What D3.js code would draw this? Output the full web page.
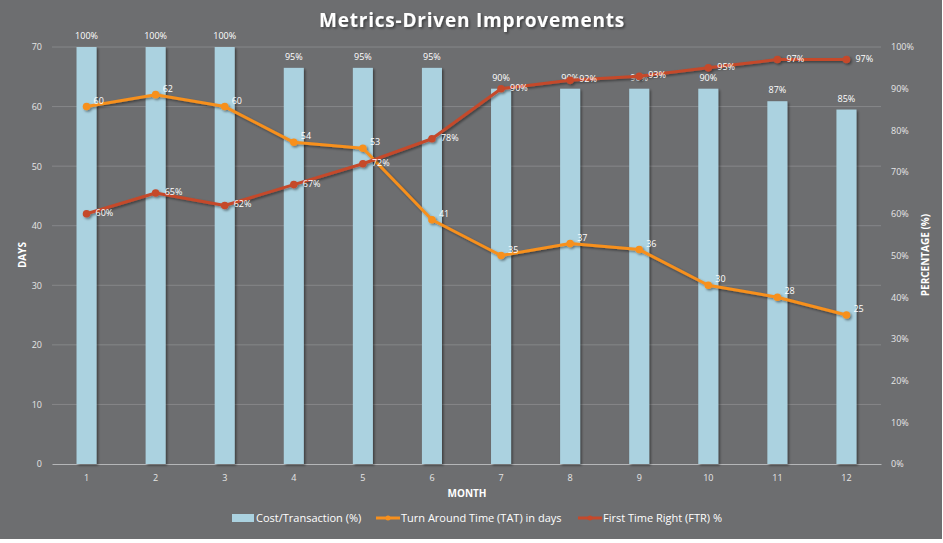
<!DOCTYPE html>
<html>
<head>
<meta charset="utf-8">
<script src="https://cdn.jsdelivr.net/npm/d3@7"></script>
<style>
  body { margin: 0; background: #fff; }
  svg { display: block; font-family: "Open Sans", "DejaVu Sans", sans-serif; }
</style>
</head>
<body>
<script>
"use strict";

// chart data
const months = [1, 2, 3, 4, 5, 6, 7, 8, 9, 10, 11, 12];
const costPct = [100, 100, 100, 95, 95, 95, 90, 90, 90, 90, 87, 85];
const tatDays = [60, 62, 60, 54, 53, 41, 35, 37, 36, 30, 28, 25];
const ftrPct = [60, 65, 62, 67, 72, 78, 90, 92, 93, 95, 97, 97];
const dayTicks = [0, 10, 20, 30, 40, 50, 60, 70];
const pctTicks = [0, 10, 20, 30, 40, 50, 60, 70, 80, 90, 100];
const legendNames = ["Cost/Transaction (%)", "Turn Around Time (TAT) in days", "First Time Right (FTR) %"];

const w = 943;
const h = 543;
const bg = "#6d6e70";
const barColor = "#abd2e0";
const tatColor = "#f7901e";
const ftrColor = "#c5492b";
const tickColor = "#e6e6e6";

const svg = d3.select("body").append("svg").attr("width", w).attr("height", h);

// drop shadow like the office chart
const defs = svg.append("defs");
const f = defs.append("filter").attr("id", "shadow").attr("x", "-20%").attr("y", "-20%").attr("width", "140%").attr("height", "140%");
f.append("feDropShadow").attr("dx", 1.5).attr("dy", 1.5).attr("stdDeviation", 1.2).attr("flood-color", "#000").attr("flood-opacity", 0.45);

svg.append("rect").attr("width", w).attr("height", h).attr("fill", "#ffffff");
svg.append("rect").attr("width", w - 1).attr("height", h - 4).attr("fill", bg);

const x = d3.scaleBand().domain(months).range([52, 881]).paddingInner(0.71).paddingOuter(0.355);
const yDays = d3.scaleLinear().domain([0, 70]).range([464, 47]);
const yPct = d3.scaleLinear().domain([0, 100]).range([464, 47]);
const cx = (m) => x(m) + x.bandwidth() / 2;

// gridlines
svg.append("g")
  .selectAll("line")
  .data(dayTicks.slice(1))
  .join("line")
  .attr("x1", 52).attr("x2", 881)
  .attr("y1", (d) => yDays(d)).attr("y2", (d) => yDays(d))
  .attr("stroke", "#868789").attr("stroke-width", 1);

// left axis
const leftAxis = svg.append("g")
  .attr("transform", "translate(52,0)")
  .call(d3.axisLeft(yDays).tickValues(dayTicks).tickSize(0).tickPadding(10));
leftAxis.select(".domain").remove();
leftAxis.selectAll("text").attr("fill", tickColor).attr("font-size", 9).attr("font-family", "Open Sans, sans-serif");

// right axis
const rightAxis = svg.append("g")
  .attr("transform", "translate(881,0)")
  .call(d3.axisRight(yPct).tickValues(pctTicks).tickFormat((d) => d + "%").tickSize(0).tickPadding(10));
rightAxis.select(".domain").remove();
rightAxis.selectAll("text").attr("fill", tickColor).attr("font-size", 9).attr("font-family", "Open Sans, sans-serif");

// bottom axis
const bottomAxis = svg.append("g")
  .attr("transform", "translate(0,464)")
  .call(d3.axisBottom(x).tickSize(0).tickPadding(11));
bottomAxis.select(".domain").attr("stroke", "#b5b6b8");
bottomAxis.selectAll("text").attr("fill", tickColor).attr("font-size", 9).attr("font-family", "Open Sans, sans-serif");

// bars
const barData = months.map((m, i) => ({ m, v: costPct[i] }));
svg.append("g")
  .attr("filter", "url(#shadow)")
  .selectAll("rect")
  .data(barData)
  .join("rect")
  .attr("x", (d) => x(d.m))
  .attr("y", (d) => yPct(d.v))
  .attr("width", x.bandwidth())
  .attr("height", (d) => yPct(0) - yPct(d.v))
  .attr("fill", barColor);

svg.append("g")
  .selectAll("text")
  .data(barData)
  .join("text")
  .attr("x", (d) => cx(d.m))
  .attr("y", (d) => yPct(d.v) - 8)
  .attr("text-anchor", "middle")
  .attr("fill", "#ffffff")
  .attr("font-size", 9)
  .text((d) => d.v + "%");

// lines
const drawLine = (vals, scale, color, fmt, dx, dy) => {
  const pts = months.map((m, i) => ({ m, v: vals[i] }));
  const g = svg.append("g");
  const gl = g.append("g").attr("filter", "url(#shadow)");
  gl.append("path")
    .datum(pts)
    .attr("d", d3.line().x((d) => cx(d.m)).y((d) => scale(d.v)))
    .attr("fill", "none")
    .attr("stroke", color)
    .attr("stroke-width", 3)
    .attr("stroke-linejoin", "round");
  gl.selectAll("circle")
    .data(pts)
    .join("circle")
    .attr("cx", (d) => cx(d.m))
    .attr("cy", (d) => scale(d.v))
    .attr("r", 3.8)
    .attr("fill", color);
  g.selectAll("text")
    .data(pts)
    .join("text")
    .attr("x", (d) => cx(d.m) + dx)
    .attr("y", (d) => scale(d.v) + dy)
    .attr("fill", "#ffffff")
    .attr("font-size", 9)
    .text((d) => fmt(d.v));
};

drawLine(tatDays, yDays, tatColor, (v) => v, 7, -3);
drawLine(ftrPct, yPct, ftrColor, (v) => v + "%", 9, 2);

// title
svg.append("text")
  .attr("x", 472)
  .attr("y", 27)
  .attr("text-anchor", "middle")
  .attr("fill", "#ffffff")
  .attr("font-size", 19)
  .attr("font-weight", "bold")
  .attr("letter-spacing", 0.8)
  .attr("filter", "url(#shadow)")
  .text("Metrics-Driven Improvements");

// axis titles
svg.append("text")
  .attr("transform", "translate(26,255) rotate(-90)")
  .attr("text-anchor", "middle")
  .attr("fill", "#ffffff")
  .attr("font-size", 10)
  .attr("font-weight", "bold")
  .text("DAYS");

svg.append("text")
  .attr("transform", "translate(929,255) rotate(-90)")
  .attr("text-anchor", "middle")
  .attr("fill", "#ffffff")
  .attr("font-size", 10)
  .attr("font-weight", "bold")
  .text("PERCENTAGE (%)");

svg.append("text")
  .attr("x", 467)
  .attr("y", 497)
  .attr("text-anchor", "middle")
  .attr("fill", "#ffffff")
  .attr("font-size", 10)
  .attr("font-weight", "bold")
  .text("MONTH");

// legend
const legend = svg.append("g").attr("transform", "translate(232,518)");
const legendX = [0, 144, 346];
const legendColors = [barColor, tatColor, ftrColor];
legendNames.forEach((name, i) => {
  const g = legend.append("g").attr("transform", `translate(${legendX[i]},0)`);
  if (i === 0) {
    g.append("rect").attr("x", 0).attr("y", -4).attr("width", 22).attr("height", 8).attr("fill", legendColors[i]);
  } else {
    g.append("line").attr("x1", 0).attr("x2", 24).attr("y1", 0).attr("y2", 0)
      .attr("stroke", legendColors[i]).attr("stroke-width", 3);
    g.append("circle").attr("cx", 12).attr("cy", 0).attr("r", 2.5).attr("fill", legendColors[i]);
  }
  g.append("text")
    .attr("x", i === 0 ? 24 : 25)
    .attr("y", 4)
    .attr("fill", "#ffffff")
    .attr("font-size", 11)
    .text(name);
});
</script>
</body>
</html>
